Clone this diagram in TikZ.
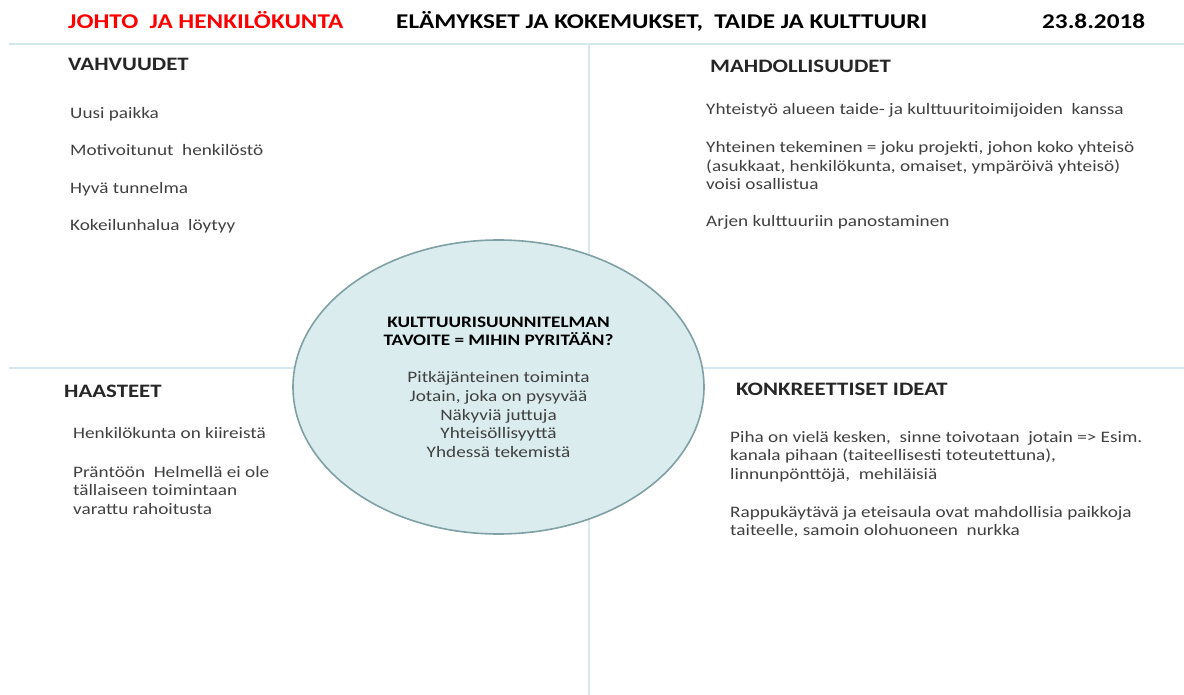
\documentclass[tikz,border=0pt]{standalone}
\usepackage{fontspec}
\setmainfont{Carlito}[FakeStretch=1.2]
\usetikzlibrary{shapes.geometric}
\definecolor{gridblue}{HTML}{D5E8ED}
\definecolor{ovalfill}{HTML}{DAECEE}
\definecolor{ovaledge}{HTML}{7FA0A4}
\definecolor{bodygray}{HTML}{404040}
\definecolor{titlered}{HTML}{FF0000}
\tikzset{
  toptitle/.style={anchor=west, inner sep=0pt, text height=13.6pt, text depth=0pt,
    font=\bfseries\fontsize{21}{23}\selectfont},
  heading/.style={anchor=west, inner sep=0pt, text height=12.2pt, text depth=0pt,
    font=\bfseries\fontsize{19}{21}\selectfont, text=black!85},
  item/.style={anchor=west, inner sep=0pt, text height=11pt, text depth=3pt,
    font=\fontsize{16}{18.6}\selectfont, text=bodygray},
  gridline/.style={gridblue, line width=1.5pt},
  oval/.style={ellipse, draw=ovaledge, fill=ovalfill, line width=1.6pt,
    minimum width=411pt, minimum height=294pt, align=center, inner sep=0pt,
    font=\fontsize{16}{18.6}\selectfont}
}
\begin{document}
\begin{tikzpicture}[x=1pt,y=-1pt]
        \useasboundingbox (0,0) rectangle (1184,695);
        % draw the title row
        \node[toptitle, text=titlered] (yksikko) at (68,22) {JOHTO\ \ JA HENKILÖKUNTA};
        \node[toptitle] (teema) at (396,22) {ELÄMYKSET\ JA KOKEMUKSET,\ \ TAIDE JA KULTTUURI};
        \node[toptitle] (pvm) at (1042,22) {23.8.2018};
        % draw the grid lines
        \draw[gridline] (9,44) -- (1184,44);
        \draw[gridline] (9,368) -- (1184,368);
        \draw[gridline] (589,44) -- (589,695);
        % draw the headings of the four fields
        \node[heading] (vahvuudet) at (68,64) {VAHVUUDET};
        \node[heading] (mahdollisuudet) at (710,66) {MAHDOLLISUUDET};
        \node[heading] (haasteet) at (64,391) {HAASTEET};
        \node[heading] (ideat) at (736,389) {KONKREETTISET IDEAT};
        % strengths
        \foreach \y/\txt [count=\i] in {
            115/Uusi paikka,
            152/Motivoitunut\ \ henkilöstö,
            190/Hyvä tunnelma,
            227/Kokeilunhalua\ \ löytyy}
                \node[item] (vahvuus-\i) at (70,\y) {\txt};
        % opportunities
        \foreach \y/\txt [count=\i] in {
            111/Yhteistyö alueen taide- ja kulttuuritoimijoiden\ \ kanssa,
            149/{Yhteinen tekeminen = joku projekti, johon koko yhteisö},
            168/{(asukkaat, henkilökunta, omaiset, ympäröivä yhteisö)},
            186/voisi osallistua,
            222.5/Arjen kulttuuriin panostaminen}
                \node[item] (mahdollisuus-\i) at (706,\y) {\txt};
        % challenges
        \foreach \y/\txt [count=\i] in {
            434/Henkilökunta on kiireistä,
            473/Präntöön\ \ Helmellä ei ole,
            491/tällaiseen toimintaan,
            510/varattu rahoitusta}
                \node[item] (haaste-\i) at (73,\y) {\txt};
        % concrete ideas
        \foreach \y/\txt [count=\i] in {
            438/{Piha on vielä kesken,\ \ sinne toivotaan\ \ jotain => Esim.},
            456.5/{kanala pihaan (taiteellisesti toteutettuna),},
            475/{linnunpönttöjä,\ \ mehiläisiä},
            513/Rappukäytävä ja eteisaula ovat mahdollisia paikkoja,
            531/{taiteelle, samoin olohuoneen\ \ nurkka}}
                \node[item] (idea-\i) at (730,\y) {\txt};
        % draw the goal in the middle
        \node[oval] (tavoite) at (498.5,387) {\textbf{KULTTUURISUUNNITELMAN}\\
            \textbf{TAVOITE = MIHIN PYRITÄÄN?}\\[18.6pt]
            \textcolor{bodygray}{Pitkäjänteinen toiminta}\\
            \textcolor{bodygray}{Jotain, joka on pysyvää}\\
            \textcolor{bodygray}{Näkyviä juttuja}\\
            \textcolor{bodygray}{Yhteisöllisyyttä}\\
            \textcolor{bodygray}{Yhdessä tekemistä}};
\end{tikzpicture}
\end{document}
